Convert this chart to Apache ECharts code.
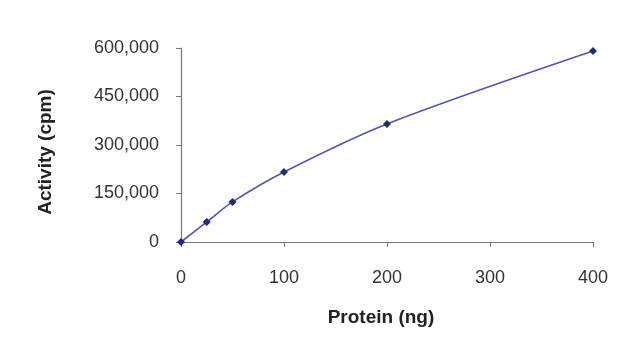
<!DOCTYPE html>
<html><head><meta charset="utf-8">
<script src="https://cdn.jsdelivr.net/npm/echarts@6/dist/echarts.min.js"></script>
<style>html,body{margin:0;padding:0;background:#fff}#c{width:640px;height:338px}</style>
</head><body><div id="c"></div>
<script>
const protein = [0, 25, 50, 100, 200, 400];
const activity = [0, 62000, 124000, 216500, 365000, 590500];
const xTicks = [0, 100, 200, 300, 400];
const yTicks = [0, 150000, 300000, 450000, 600000];

const chart = echarts.init(document.getElementById('c'), null, {renderer: 'canvas'});
const font = 'Liberation Sans, Arial, sans-serif';
chart.setOption({
  animation: false,
  backgroundColor: '#fff',
  grid: {left: 181, right: 47, top: 48, bottom: 96, containLabel: false},
  xAxis: {
    type: 'value', min: xTicks[0], max: xTicks[xTicks.length-1], interval: 100,
    name: 'Protein (ng)', nameLocation: 'middle', nameGap: 66,
    nameTextStyle: {fontFamily: font, fontWeight: 'bold', fontSize: 19, color: '#222', padding: [0, 12, 0, 0]},
    axisLine: {lineStyle: {color: '#777', width: 1.2}},
    axisTick: {show: true, inside: false, length: 5, lineStyle: {color: '#777'}},
    axisLabel: {fontFamily: font, fontSize: 18, color: '#333', margin: 27},
    splitLine: {show: false}
  },
  yAxis: {
    type: 'value', min: yTicks[0], max: yTicks[yTicks.length-1], interval: 150000,
    name: 'Activity (cpm)', nameLocation: 'middle', nameGap: 126, nameRotate: 90,
    nameTextStyle: {fontFamily: font, fontWeight: 'bold', fontSize: 19, color: '#222', padding: [0, 14, 0, 0]},
    axisLine: {show: true, lineStyle: {color: '#777', width: 1.2}},
    axisTick: {show: true, inside: false, length: 5, lineStyle: {color: '#777'}},
    axisLabel: {fontFamily: font, fontSize: 18, color: '#333', margin: 22,
      formatter: v => v.toLocaleString('en-US')},
    splitLine: {show: false}
  },
  series: [{
    type: 'line',
    data: protein.map((p, i) => [p, activity[i]]),
    smooth: 0.3,
    symbol: 'diamond', symbolSize: 8,
    itemStyle: {color: '#1f2a7a'},
    lineStyle: {color: '#5356b0', width: 1.6}
  }]
});
</script></body></html>
